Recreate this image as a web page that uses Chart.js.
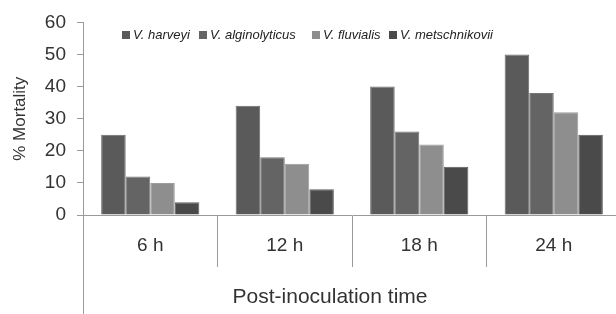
<!DOCTYPE html>
<html>
<head>
<meta charset="utf-8">
<script src="https://cdn.jsdelivr.net/npm/chart.js@4/dist/chart.umd.min.js"></script>
<style>
  html, body { margin: 0; padding: 0; background: #fff; overflow: hidden; }
  #wrap { width: 625px; height: 314px; }
</style>
</head>
<body>
<div id="wrap"><canvas id="c" width="625" height="314"></canvas></div>
<script>
const categories = ['6 h', '12 h', '18 h', '24 h'];
const seriesNames = ['V. harveyi', 'V. alginolyticus', 'V. fluvialis', 'V. metschnikovii'];
const harveyi = [25, 34, 40, 50];
const alginolyticus = [12, 18, 26, 38];
const fluvialis = [10, 16, 22, 32];
const metschnikovii = [4, 8, 15, 25];
const yTicks = [0, 10, 20, 30, 40, 50, 60];
const yTitle = '% Mortality';
const xTitle = 'Post-inoculation time';

const colors = ['#5a5a5a', '#646464', '#8e8e8e', '#4a4a4a'];
const edgeColors = ['#6c6c6c', '#767676', '#9c9c9c', '#5c5c5c'];
const FONT = '"Liberation Sans", Arial, sans-serif';
const AXIS = '#9a9a9a';

const seriesValues = [harveyi, alginolyticus, fluvialis, metschnikovii];

const extras = {
  id: 'extras',
  afterDraw(chart) {
    const ctx = chart.ctx;
    const ya = chart.scales.y;
    const ca = chart.chartArea;
    ctx.save();
    // y axis extension below the plot
    ctx.strokeStyle = AXIS;
    ctx.lineWidth = 1;
    ctx.beginPath();
    ctx.moveTo(ya.right + 0.5, ca.bottom);
    ctx.lineTo(ya.right + 0.5, chart.height);
    ctx.stroke();
    // x axis title
    ctx.fillStyle = '#333';
    ctx.font = '21px ' + FONT;
    ctx.textAlign = 'center';
    ctx.textBaseline = 'middle';
    ctx.fillText(xTitle, 330, 297);
    // legend
    const boxX = [122, 199, 312, 389];
    ctx.font = 'italic 13px ' + FONT;
    ctx.textAlign = 'left';
    chart.data.datasets.forEach((ds, i) => {
      ctx.fillStyle = ds.backgroundColor;
      ctx.fillRect(boxX[i], 31, 8, 8);
      ctx.fillStyle = '#222';
      ctx.fillText(ds.label, boxX[i] + 11, 35.5);
    });
    ctx.restore();
  }
};

new Chart(document.getElementById('c'), {
  type: 'bar',
  data: {
    labels: categories,
    datasets: seriesNames.map((name, i) => ({
      label: name,
      data: seriesValues[i],
      backgroundColor: colors[i],
      borderColor: edgeColors[i],
      borderWidth: 1,
      categoryPercentage: 0.73,
      barPercentage: 1
    }))
  },
  options: {
    responsive: false,
    devicePixelRatio: 1,
    animation: false,
    layout: { padding: { top: 22, right: 4, left: 0, bottom: 0 } },
    plugins: { legend: { display: false }, tooltip: { enabled: false } },
    scales: {
      x: {
        offset: true,
        grid: { offset: true, drawOnChartArea: false, tickLength: 52, color: AXIS, lineWidth: 1 },
        border: { color: AXIS, width: 1 },
        ticks: { font: { size: 19, family: FONT }, color: '#333', padding: -33, maxRotation: 0, autoSkip: false },
        afterFit(scale) { scale.height = 99; }
      },
      y: {
        min: 0, max: 60,
        afterBuildTicks(scale) { scale.ticks = yTicks.map(v => ({ value: v })); },
        grid: { drawOnChartArea: false, tickLength: 6, color: AXIS, lineWidth: 1 },
        border: { color: AXIS, width: 1 },
        ticks: { font: { size: 19, family: FONT }, color: '#333', padding: 11 },
        title: { display: true, text: yTitle, font: { size: 17, family: FONT }, color: '#333', padding: { top: 10, bottom: 0 } },
        afterFit(scale) { scale.width = 83; }
      }
    }
  },
  plugins: [extras]
});
</script>
</body>
</html>
